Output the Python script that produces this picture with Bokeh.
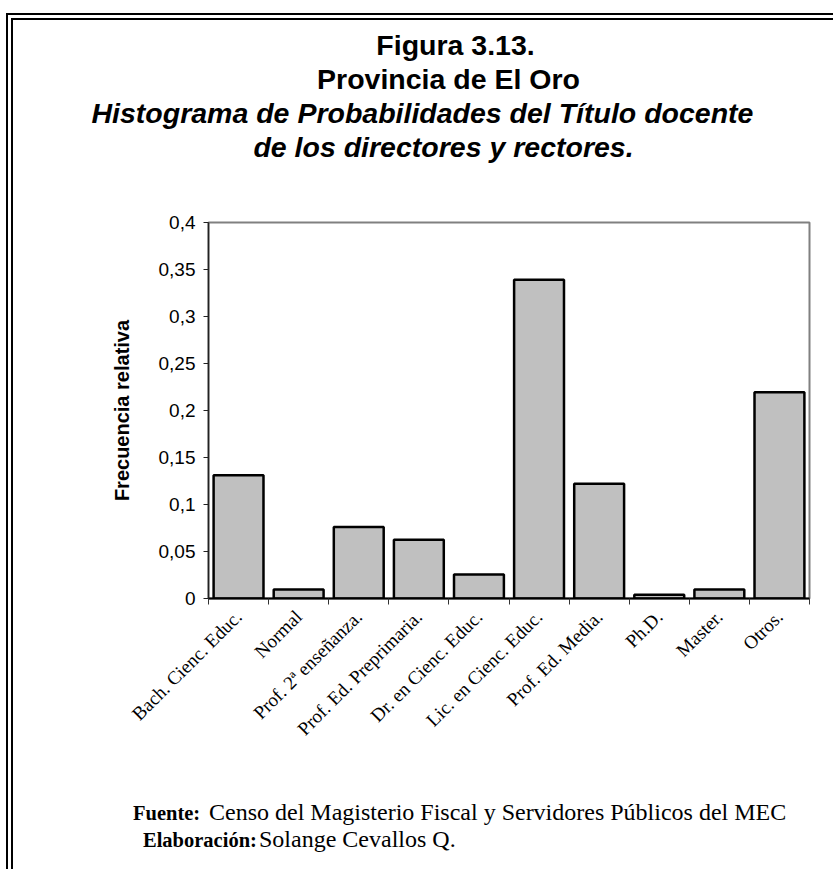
import math
from bokeh.plotting import figure
from bokeh.layouts import column
from bokeh.models import (Range1d, FixedTicker, CustomJSTickFormatter, Title, Div)
from bokeh.embed import file_html
from bokeh.resources import INLINE

# ---- data ----
categories = ["Bach. Cienc. Educ.", "Normal", "Prof. 2ª enseñanza.", "Prof. Ed. Preprimaria.",
              "Dr. en Cienc. Educ.", "Lic. en Cienc. Educ.", "Prof. Ed. Media.", "Ph.D.",
              "Master.", "Otros."]
frecuencia = [0.131, 0.0095, 0.076, 0.0625, 0.0255, 0.339, 0.122, 0.004, 0.0095, 0.2195]
y_ticks = [0, 0.05, 0.1, 0.15, 0.2, 0.25, 0.3, 0.35, 0.4]

title_lines = ["Figura 3.13.", "Provincia de El Oro",
               "Histograma de Probabilidades del Título docente",
               "de los directores y rectores."]
y_label = "Frecuencia relativa"
fuente_key, fuente_text = "Fuente:", "Censo del Magisterio Fiscal y Servidores Públicos del MEC"
elab_key, elab_text = "Elaboración:", "Solange Cevallos Q."

# ---- layout constants ----
n = len(categories)
centers = [i + 0.5 for i in range(n)]
boundaries = list(range(n + 1))

OX, OY = 13, 20            # page offset of the figure (inside the double frame)
W, H = 833 - OX, 760
FL, FR, FT, FB = 208 - OX, 809 - OX, 222 - OY, 598 - OY   # frame edges in canvas px

TITLE_SIZE = 28.5
title_centers = [455, 448, 422, 443]      # page x of each title line's centre

# Arial/Liberation Sans Bold advance widths (1/1000 em) used to place left-aligned titles
AB = {' ': 278, '.': 278, '1': 556, '3': 556, 'E': 667, 'F': 611, 'H': 722, 'O': 778,
      'P': 667, 'T': 611, 'a': 556, 'b': 611, 'c': 556, 'd': 611, 'e': 556, 'g': 611,
      'i': 278, 'í': 278, 'l': 278, 'm': 889, 'n': 611, 'o': 611, 'r': 389, 's': 556,
      't': 333, 'u': 611, 'v': 556, 'y': 556}

def text_width(s, size):
    return sum(AB.get(ch, 556) for ch in s) / 1000 * size

p = figure(width=W, height=H, output_backend="svg", toolbar_location=None,
           x_range=Range1d(0, n), y_range=Range1d(0, y_ticks[-1]),
           min_border_left=FL, min_border_right=W - FR, min_border_top=FT,
           min_border_bottom=H - FB)
p.background_fill_color = "white"
p.border_fill_color = "white"
p.grid.visible = False
p.outline_line_color = "#808080"
p.outline_line_width = 2

p.vbar(x=centers, top=frecuencia, bottom=0, width=0.83, fill_color="#c0c0c0",
       line_color="black", line_width=2.5)

# y axis
p.yaxis.ticker = FixedTicker(ticks=y_ticks)
p.yaxis.formatter = CustomJSTickFormatter(code="return tick.toString().replace('.', ',')")
p.yaxis.major_label_text_font = "Liberation Sans"
p.yaxis.major_label_text_font_size = "19px"
p.yaxis.major_label_text_color = "black"
p.yaxis.major_label_standoff = 8
p.yaxis.major_tick_out = 5
p.yaxis.major_tick_in = 0
p.yaxis.minor_tick_line_color = None
p.yaxis.axis_line_color = "#222222"
p.yaxis.axis_line_width = 1.5
p.yaxis.major_tick_line_color = "#222222"
p.yaxis.axis_label = y_label
p.yaxis.axis_label_text_font = "Liberation Sans"
p.yaxis.axis_label_text_font_style = "bold"
p.yaxis.axis_label_text_font_size = "20px"
p.yaxis.axis_label_text_color = "black"
p.yaxis.axis_label_standoff = 23

# x axis: labels at bar centres, tick marks at category boundaries
p.xaxis.ticker = FixedTicker(ticks=centers, minor_ticks=boundaries)
p.xaxis.major_label_overrides = {c: name for c, name in zip(centers, categories)}
p.xaxis.major_label_orientation = math.pi / 4
p.xaxis.major_label_text_font = "Liberation Serif"
p.xaxis.major_label_text_font_size = "19px"
p.xaxis.major_label_text_color = "black"
p.xaxis.major_label_standoff = 9
p.xaxis.major_tick_line_color = None
p.xaxis.major_tick_out = 0
p.xaxis.major_tick_in = 0
p.xaxis.minor_tick_out = 6
p.xaxis.minor_tick_in = 0
p.xaxis.minor_tick_line_color = "#333333"
p.xaxis.axis_line_color = "black"
p.xaxis.axis_line_width = 2

# spacer between the plot and the title block
p.add_layout(Title(text=" ", text_font_size="1px", standoff=57), "above")
# titles (added from the plot outward)
for i, t in reversed(list(enumerate(title_lines))):
    left = title_centers[i] - text_width(t, TITLE_SIZE) / 2 - OX
    p.add_layout(Title(text=t, align="left", offset=left - FL,
                       text_font="Liberation Sans",
                       text_font_style="bold" if i < 2 else "bold italic",
                       text_font_size=f"{TITLE_SIZE}px", text_color="black",
                       standoff=-0.5), "above")

footer = Div(
    text=(f'<div style="margin-left:115px; white-space:nowrap">'
          f'<span style="display:inline-block; width:76px; font-weight:bold; font-size:20.5px">{fuente_key}</span>'
          f'{fuente_text}</div>'
          f'<div style="margin-left:125px; white-space:nowrap">'
          f'<span style="display:inline-block; width:116px; font-weight:bold; font-size:20.5px">{elab_key}</span>'
          f'{elab_text}</div>'),
    width=W, height=869 - OY - H,
    styles={"font-family": "'Liberation Serif', 'Times New Roman', serif",
            "font-size": "24px", "line-height": "26px", "padding-top": "14px",
            "color": "black", "box-sizing": "border-box"})

root = column(p, footer, spacing=0,
              styles={"margin-left": "6px", "margin-top": "13px",
                      "border-left": "7px double black", "border-top": "7px double black"})

open("out.html", "w").write(file_html(root, INLINE))
